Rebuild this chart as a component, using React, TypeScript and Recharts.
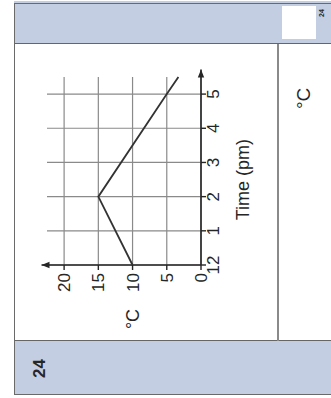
import React from "react";
import {
  LineChart,
  Line,
  XAxis,
  YAxis,
  CartesianGrid,
  ReferenceLine,
} from "recharts";

// readings: hours after 12 pm, temperature in °C
const hours = [0, 2, 5, 5.5];
const temps = [10, 15, 5, 3.3];
const hourTicks = [0, 1, 2, 3, 4, 5];
const hourLabels = ["12", "1", "2", "3", "4", "5"];
const tempTicks = [0, 5, 10, 15, 20];

const data = hours.map((h, i) => ({ hour: h, temp: temps[i] }));

const FONT = "'Liberation Sans', Arial, sans-serif";
const BAND = "#c3cee2";
const INK = "#262626";

const ArrowLine = (p: any) => {
  const { x1, y1, x2, y2 } = p;
  const a = Math.atan2(y2 - y1, x2 - x1);
  const len = 8;
  const half = 3.2;
  const bx = x2 - len * Math.cos(a);
  const by = y2 - len * Math.sin(a);
  const pts = [
    `${x2},${y2}`,
    `${bx - half * Math.sin(a)},${by + half * Math.cos(a)}`,
    `${bx + half * Math.sin(a)},${by - half * Math.cos(a)}`,
  ].join(" ");
  return (
    <g>
      <line x1={x1} y1={y1} x2={x2} y2={y2} stroke={INK} strokeWidth={1.6} />
      <polygon points={pts} fill={INK} />
    </g>
  );
};

const TempGraph = () => (
  <LineChart
    width={398}
    height={331}
    data={data}
    margin={{ top: 47, right: 77, bottom: 80, left: 73 }}
  >
    <CartesianGrid stroke="#8a8a8a" strokeWidth={1.2} syncWithTicks />
    <XAxis
      dataKey="hour"
      type="number"
      domain={[0, 5.5]}
      ticks={hourTicks}
      tickFormatter={(v: number) => hourLabels[hourTicks.indexOf(v)]}
      axisLine={false}
      tickLine={{ stroke: INK, strokeWidth: 1.4 }}
      tickSize={5}
      tickMargin={1}
      height={50}
      tick={{ fontSize: 17, fill: INK, fontFamily: FONT }}
      label={{
        content: (props: any) => {
          const vb = props.viewBox;
          return (
            <text
              x={vb.x + (vb.width * 2.5) / 5.5}
              y={vb.y + 42}
              textAnchor="middle"
              dominantBaseline="central"
              fontSize={18}
              fill={INK}
              fontFamily={FONT}
            >
              Time (pm)
            </text>
          );
        },
      }}
    />
    <YAxis
      dataKey="temp"
      type="number"
      domain={[0, 22.5]}
      ticks={tempTicks}
      axisLine={false}
      tickLine={{ stroke: INK, strokeWidth: 1.4 }}
      tickSize={5}
      tickMargin={3}
      width={60}
      tick={{ fontSize: 17, fill: INK, fontFamily: FONT }}
      label={{
        content: (props: any) => {
          const vb = props.viewBox;
          return (
            <text
              x={vb.x + 6}
              y={vb.y + vb.height * (1 - 10 / 22.5)}
              textAnchor="middle"
              dominantBaseline="central"
              fontSize={18}
              fill={INK}
              fontFamily={FONT}
            >
              °C
            </text>
          );
        },
      }}
    />
    <ReferenceLine
      segment={[
        { x: 0, y: 0 },
        { x: 5.72, y: 0 },
      ]}
      ifOverflow="visible"
      shape={ArrowLine}
    />
    <ReferenceLine
      segment={[
        { x: 0, y: 0 },
        { x: 0, y: 23.3 },
      ]}
      ifOverflow="visible"
      shape={ArrowLine}
    />
    <Line
      type="linear"
      dataKey="temp"
      stroke="#333"
      strokeWidth={1.8}
      dot={false}
      isAnimationActive={false}
    />
  </LineChart>
);

export default function App() {
  return (
    <div
      style={{
        position: "absolute",
        left: 0,
        top: 0,
        width: 331,
        height: 398,
        overflow: "hidden",
        background: "#fff",
        fontFamily: FONT,
      }}
    >
      {/* page laid out upright, then turned a quarter turn */}
      <div
        style={{
          position: "absolute",
          left: 0,
          top: 0,
          width: 398,
          height: 331,
          transformOrigin: "0 0",
          transform: "translateY(398px) rotate(-90deg)",
        }}
      >
        <div
          style={{
            position: "absolute",
            left: 3,
            top: 14,
            width: 54,
            height: 330,
            background: BAND,
            borderRight: "1.5px solid #666",
          }}
        />
        <div
          style={{
            position: "absolute",
            left: 354,
            top: 14,
            width: 42,
            height: 330,
            background: BAND,
            borderLeft: "1.5px solid #666",
          }}
        />
        <div
          style={{
            position: "absolute",
            left: 3,
            top: 14,
            width: 392,
            height: 330,
            border: "1.5px solid #6a6a6a",
            boxSizing: "border-box",
          }}
        />
        <div
          style={{
            position: "absolute",
            left: 57,
            top: 277,
            width: 297,
            height: 2,
            background: "#8a8a8a",
          }}
        />
        <div
          style={{
            position: "absolute",
            left: 359,
            top: 282,
            width: 33,
            height: 34,
            background: "#fff",
          }}
        />
        <div
          style={{
            position: "absolute",
            left: 381,
            top: 318,
            fontSize: 7,
            fontWeight: "bold",
            color: INK,
          }}
        >
          24
        </div>
        <div
          style={{
            position: "absolute",
            left: 20,
            top: 30,
            fontSize: 17,
            fontWeight: "bold",
            color: INK,
          }}
        >
          24
        </div>
        <div
          style={{
            position: "absolute",
            left: 289,
            top: 293,
            fontSize: 19,
            color: INK,
          }}
        >
          °C
        </div>
        <div style={{ position: "absolute", left: 0, top: 0 }}>
          <TempGraph />
        </div>
      </div>
    </div>
  );
}
